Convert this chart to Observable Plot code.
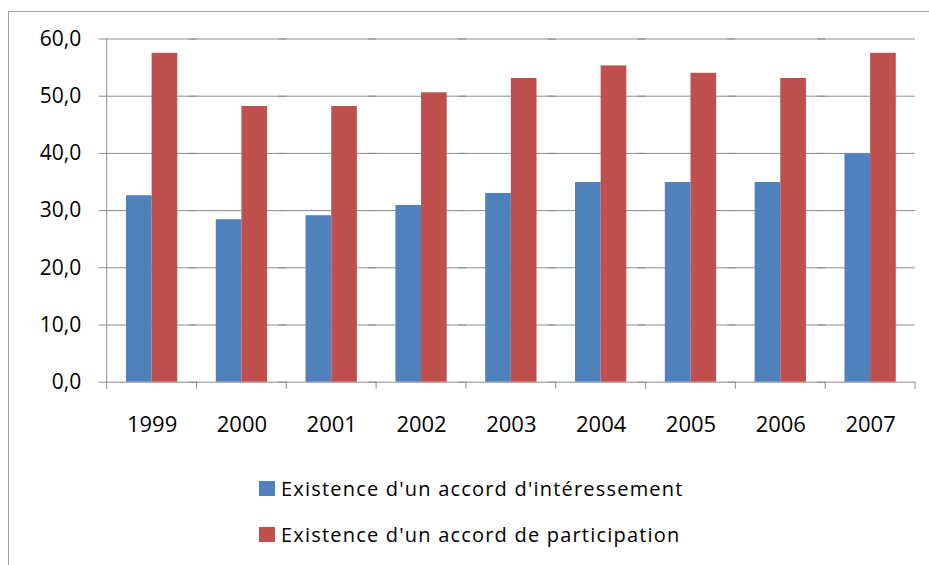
<!DOCTYPE html>
<html>
<head>
<meta charset="utf-8">
<script src="https://cdn.jsdelivr.net/npm/d3@7"></script>
<script src="https://cdn.jsdelivr.net/npm/@observablehq/plot@0.6"></script>
<style>
  html, body { margin: 0; padding: 0; background: #fff; }
  body { width: 929px; height: 565px; overflow: hidden; position: relative; font-family: "Open Sans", Lato, sans-serif; }
  #frame { position: absolute; left: 8px; top: 11px; width: 940px; height: 600px; border: 1px solid #a0a0a0; }
  #chart { position: absolute; left: 0; top: 0; }
  .leg { position: absolute; display: flex; align-items: center; height: 24px; font-size: 20px; letter-spacing: 1.2px; color: #000; white-space: nowrap; }
  .sw { width: 16px; height: 15px; margin-right: 6px; }
</style>
</head>
<body>
<div id="frame">
  <div id="chart"></div>
</div>
<div id="legend"></div>
<script>
const years = ["1999","2000","2001","2002","2003","2004","2005","2006","2007"];
const seriesNames = ["Existence d'un accord d'intéressement", "Existence d'un accord de participation"];
const interessement = [32.6, 28.4, 29.1, 30.9, 33.0, 34.9, 34.9, 34.9, 39.9];
const participation = [57.5, 48.2, 48.2, 50.6, 53.1, 55.3, 54.0, 53.1, 57.5];
const seriesColors = ["#4F81BD", "#C0504D"];
const yTicks = [0, 10, 20, 30, 40, 50, 60];

const data = [];
years.forEach((yr, i) => {
  data.push({year: yr, series: seriesNames[0], value: interessement[i]});
  data.push({year: yr, series: seriesNames[1], value: participation[i]});
});

const gridColor = "#8c8c8c";
const fmt = d => d.toFixed(1).replace(".", ",");

const chart = Plot.plot({
  width: 921,
  height: 430,
  marginTop: 26.5,
  marginBottom: 60.3,
  marginLeft: 97.7,
  marginRight: 15,
  style: {fontFamily: "'Open Sans', Lato, sans-serif", fontSize: "21px", color: "#000", background: "#fff"},
  fx: {domain: years, paddingInner: 0, paddingOuter: 0, round: false, label: null},
  x: {domain: seriesNames, paddingInner: 0, paddingOuter: 0.75, round: false, axis: null},
  y: {domain: [0, 60], ticks: yTicks, label: null},
  color: {domain: seriesNames, range: seriesColors},
  marks: [
    Plot.gridY(yTicks, {stroke: gridColor, strokeOpacity: 1, strokeWidth: 1, insetLeft: -8}),
    Plot.barY(data, {fx: "year", x: "series", y: "value", fill: "series"}),
    Plot.axisY({ticks: yTicks, tickFormat: fmt, tickSize: 0, tickPadding: 26, fontSize: 21, label: null}),
    Plot.axisFx({anchor: "bottom", tickSize: 0, tickPadding: 34, fontSize: 22, label: null})
  ]
});
document.getElementById("chart").appendChild(chart);

// Category-boundary tick marks and vertical axis line, placed with Plot's own scales
const fx = chart.scale("fx");
const ys = chart.scale("y");
const svg = d3.select(chart);
const y0 = ys.apply(0), yTop = ys.apply(60);
const step = fx.apply(years[1]) - fx.apply(years[0]);
const bounds = years.map(y => fx.apply(y)).concat([fx.apply(years[years.length - 1]) + step]);
const g = svg.append("g").attr("stroke", gridColor).attr("stroke-width", 1);
bounds.forEach(b => {
  g.append("line").attr("x1", b).attr("x2", b).attr("y1", y0).attr("y2", y0 + 7);
});
g.append("line").attr("x1", bounds[0]).attr("x2", bounds[0]).attr("y1", yTop).attr("y2", y0);

// Legend
const legend = document.getElementById("legend");
const legTops = [476.7, 522];
seriesNames.forEach((name, i) => {
  const row = document.createElement("div");
  row.className = "leg";
  row.style.left = "259px";
  row.style.top = legTops[i] + "px";
  const sw = document.createElement("div");
  sw.className = "sw";
  sw.style.background = seriesColors[i];
  const t = document.createElement("span");
  t.textContent = name;
  row.appendChild(sw);
  row.appendChild(t);
  legend.appendChild(row);
});
</script>
</body>
</html>
